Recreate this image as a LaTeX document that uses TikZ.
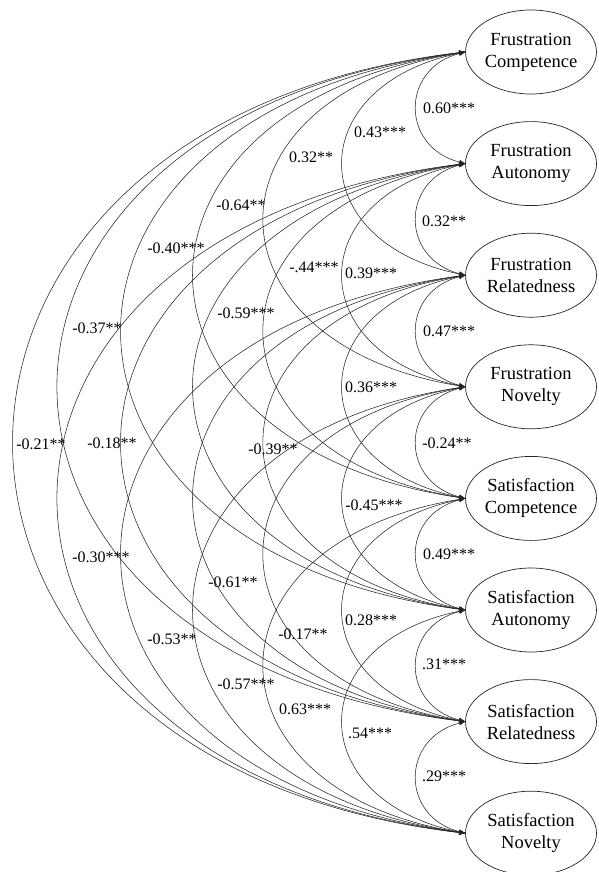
\documentclass[tikz,border=0pt]{standalone}
\usepackage{fontspec}
\setmainfont{Liberation Serif}
\usetikzlibrary{arrows.meta,shapes.geometric}
\begin{document}
\begin{tikzpicture}[x=1pt,y=-1pt,
  latent/.style={ellipse, draw=black!85, line width=0.7pt, minimum width=131pt, minimum height=84pt, inner sep=0pt},
  lat/.style={font=\fontsize{18.5}{22}\selectfont, align=center, inner sep=0pt},
  corr/.style={line width=0.55pt, draw=black!85, {Triangle[length=6pt,width=4.5pt]}-{Triangle[length=6pt,width=4.5pt]}},
  coef/.style={font=\fontsize{16}{18}\selectfont, inner sep=0pt}]
\useasboundingbox (0,0) rectangle (598,872);
% latent variables
\foreach \n/\t [count=\i] in {Frustration/Competence, Frustration/Autonomy, Frustration/Relatedness, Frustration/Novelty, Satisfaction/Competence, Satisfaction/Autonomy, Satisfaction/Relatedness, Satisfaction/Novelty}{
  \node[latent] (e\i) at (531,{52+111.6*(\i-1)}) {};
  \node[lat] (t\i) at (e\i.center) {\n\\\t};
}
% correlations
\foreach \i/\j/\k/\m in {1/2/0.58/0.15, 2/3/0.58/0.15, 3/4/0.58/0.15, 4/5/0.58/0.15, 5/6/0.58/0.15, 6/7/0.58/0.15, 7/8/0.58/0.15,
  1/3/0.73/0.15, 2/4/0.73/0.15, 3/5/0.73/0.15, 4/6/0.73/0.15, 5/7/0.73/0.15, 6/8/0.73/0.15,
  1/4/0.80/0.13, 2/5/0.80/0.13, 3/6/0.80/0.13, 4/7/0.80/0.13, 5/8/0.80/0.13,
  1/5/0.81/0.12, 2/6/0.81/0.12, 3/7/0.81/0.12, 4/8/0.81/0.12,
  1/6/0.82/0.11, 2/7/0.82/0.11, 3/8/0.82/0.11,
  1/7/0.81/0.10, 2/8/0.81/0.10,
  1/8/0.77/0.09}{
  \draw[corr] (e\i.west) .. controls +({-\k*(\j-\i)*111.6},{\m*(\j-\i)*111.6}) and +({-\k*(\j-\i)*111.6},{-\m*(\j-\i)*111.6}) .. (e\j.west);
}
% coefficients
\foreach \x/\y/\v [count=\c] in {449/108/0.60***, 444/221/0.32**, 449/331/0.47***, 447/443/-0.24**, 449/554/0.49***, 444/664/.31***, 444/776/.29***,
  380/132/0.43***, 371/273/0.39***, 371/387/0.36***, 374/505/-0.45***, 371/620/0.28***, 370/733/.54***,
  311/157/0.32**, 314/267/-.44***, 273/449/-0.39**, 303/634/-0.17**, 305/709/0.63***,
  241/205/-0.64**, 246/313/-0.59***, 233/582/-0.61**, 246/684/-0.57***,
  176/248/-0.40***, 112/443/-0.18**, 172/639/-0.53**,
  97/328/-0.37**, 101/557/-0.30***,
  41/444/-0.21**}{
  \node[coef] (l\c) at (\x,\y) {\v};
}
\end{tikzpicture}
\end{document}
